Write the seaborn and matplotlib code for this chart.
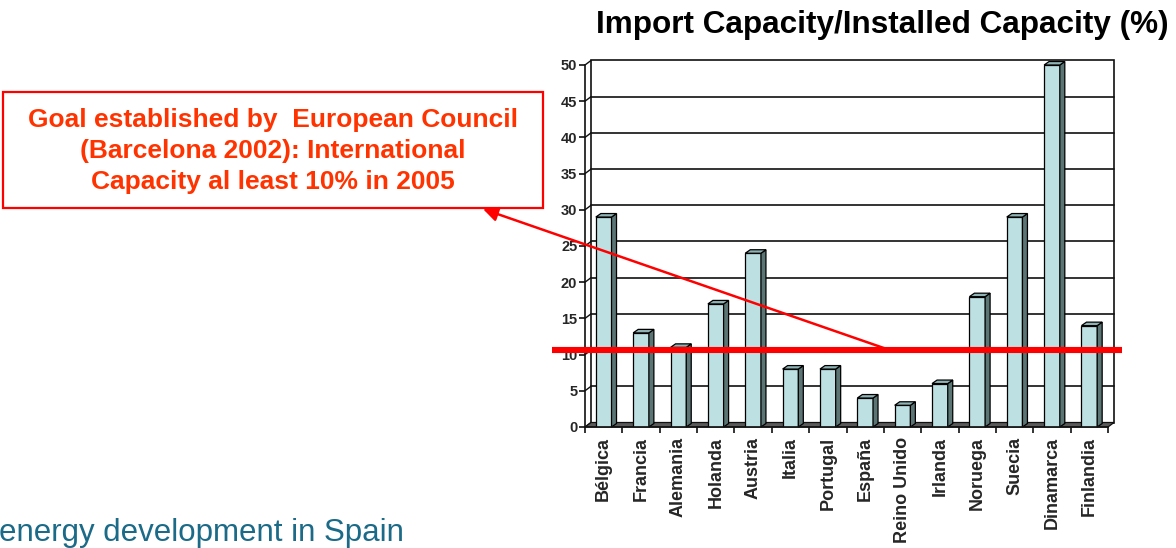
import matplotlib
matplotlib.use("Agg")
import matplotlib.pyplot as plt
from matplotlib.patches import Polygon, Rectangle
from matplotlib.ticker import FixedLocator
import pandas as pd
import seaborn as sns

# Import capacity as share of installed capacity (%)
countries = ["Bélgica", "Francia", "Alemania", "Holanda", "Austria", "Italia",
             "Portugal", "España", "Reino Unido", "Irlanda", "Noruega", "Suecia",
             "Dinamarca", "Finlandia"]
ratio = [29, 13, 11, 17, 24, 8, 8, 4, 3, 6, 18, 29, 50, 14]
goal = 10
y_ticks = [0, 5, 10, 15, 20, 25, 30, 35, 40, 45, 50]

title = "Import Capacity/Installed Capacity (%)"
note = "Goal established by  European Council\n(Barcelona 2002): International\nCapacity al least 10% in 2005"
footer = "energy development in Spain"

sns.set_style("white")
plt.rcParams["font.family"] = ["Liberation Sans", "DejaVu Sans"]

W, H = 1176, 548
fig = plt.figure(figsize=(W / 100, H / 100), dpi=100)
ax_l, ax_r, ax_b, ax_t = 585, 1108, 427, 65
ax = fig.add_axes([ax_l / W, 1 - ax_b / H, (ax_r - ax_l) / W, (ax_b - ax_t) / H])

df = pd.DataFrame({"country": countries, "ratio": ratio})
sns.barplot(data=df, x="country", y="ratio", color="#bde0e3", saturation=1,
            width=0.42, edgecolor="black", linewidth=0.9, ax=ax, zorder=3)
bars = list(ax.patches)

n = len(countries)
ax.set_xlim(-0.5, n - 0.5)
ax.set_ylim(0, 50)

# depth of the pseudo-3D box, converted from pixels to data units
px_x = (ax_r - ax_l) / n
px_y = (ax_b - ax_t) / 50
dxw, dyw = 6 / px_x, 4.5 / px_y
dxb, dyb = 5 / px_x, 3.5 / px_y

line_c = "#111111"
# back wall
ax.add_patch(Rectangle((-0.5 + dxw, dyw), n, 50, facecolor="white",
                       edgecolor=line_c, lw=1.2, zorder=0.5, clip_on=False))
for v in y_ticks:
    if 0 < v < 50:
        ax.plot([-0.5 + dxw, n - 0.5 + dxw], [v + dyw, v + dyw], color=line_c,
                lw=1.2, zorder=0.6, clip_on=False)
    ax.plot([-0.5, -0.5 + dxw], [v, v + dyw], color=line_c, lw=1.0,
            zorder=0.6, clip_on=False)

# floor
ax.add_patch(Polygon([(-0.5, 0), (n - 0.5, 0), (n - 0.5 + dxw, dyw), (-0.5 + dxw, dyw)],
                     closed=True, facecolor="#5a5a5a", edgecolor=line_c, lw=0.9,
                     zorder=1, clip_on=False))

# side and top faces of each bar
for r in bars:
    x0, w, h = r.get_x(), r.get_width(), r.get_height()
    side = [(x0 + w, 0), (x0 + w, h), (x0 + w + dxb, h + dyb), (x0 + w + dxb, dyb)]
    top = [(x0, h), (x0 + w, h), (x0 + w + dxb, h + dyb), (x0 + dxb, h + dyb)]
    ax.add_patch(Polygon(side, closed=True, facecolor="#5b7474", edgecolor="black",
                         lw=0.9, zorder=3, clip_on=False))
    ax.add_patch(Polygon(top, closed=True, facecolor="#8fb3b5", edgecolor="black",
                         lw=0.9, zorder=3, clip_on=False))

# axes styling
for s in ["top", "right"]:
    ax.spines[s].set_visible(False)
for s in ["left", "bottom"]:
    ax.spines[s].set_color(line_c)
    ax.spines[s].set_linewidth(1.2)
    ax.spines[s].set_zorder(4)
ax.set_xlabel("")
ax.set_ylabel("")
ax.set_yticks(y_ticks)
ax.set_yticklabels([str(v) for v in y_ticks], fontsize=10.5, fontweight="bold")
ax.tick_params(axis="y", direction="out", length=4, width=1.2, pad=1.5,
               color=line_c, left=True)
ax.set_xticks(range(n))
ax.set_xticklabels(countries, rotation=90, fontsize=13, fontweight="bold",
                   va="top", ha="center")
ax.tick_params(axis="x", which="major", length=0, pad=7)
ax.xaxis.set_minor_locator(FixedLocator([i - 0.5 for i in range(n + 1)]))
ax.tick_params(axis="x", which="minor", direction="out", length=4.3, width=1.2,
               color=line_c, bottom=True)
ax.grid(False)

# goal line at 10 % on the back wall
ax.plot([-1.38, n - 0.5 + 0.37], [goal + dyw, goal + dyw], color="#ff0000",
        lw=4.4, solid_capstyle="butt", zorder=6, clip_on=False)

# title
fig.text(882 / W, 1 - 25 / H, title, ha="center", va="center",
         fontsize=22.7, fontweight="bold", color="black")

# note box
fig.add_artist(Rectangle((3 / W, 1 - 208 / H), 540 / W, 116 / H,
                         transform=fig.transFigure, fill=False,
                         edgecolor="#ff0000", lw=1.6))
fig.text(273 / W, 1 - 151 / H, note, ha="center", va="center",
         multialignment="center", fontsize=19, fontweight="bold",
         color="#ff3300", linespacing=1.35)

ax.annotate("", xy=(483, H - 209), xycoords="figure pixels",
            xytext=(7.66, goal + dyw), textcoords="data",
            arrowprops=dict(arrowstyle="-|>", color="#ff0000", lw=1.8,
                            mutation_scale=22, shrinkA=0, shrinkB=0),
            annotation_clip=False, zorder=7)

# footer
fig.text(-1 / W, 7 / H, footer, ha="left", va="baseline", fontsize=22.5,
         color="#1b6a87")

fig.savefig("out.png", dpi=100)
